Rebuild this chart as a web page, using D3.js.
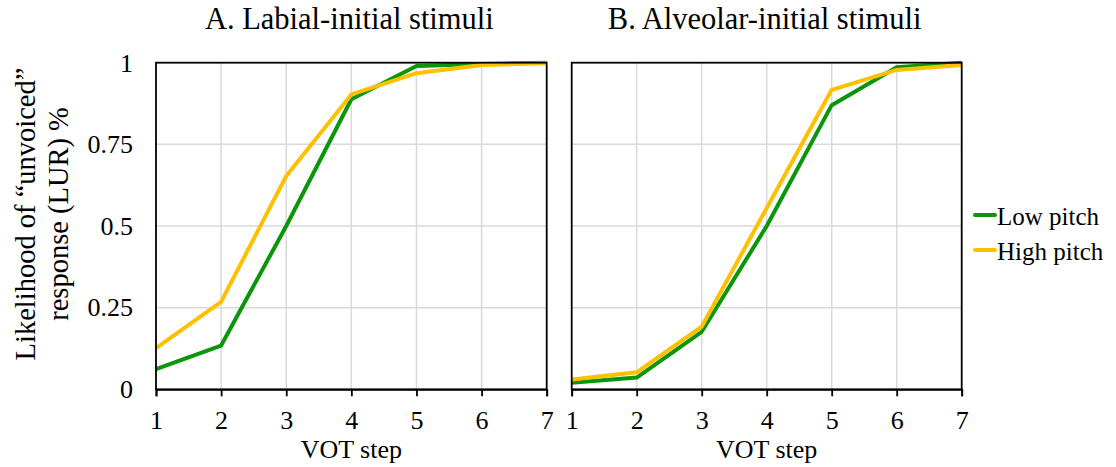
<!DOCTYPE html>
<html><head><meta charset="utf-8">
<script src="https://cdn.jsdelivr.net/npm/d3@7"></script>
<style>body{margin:0;background:#fff}svg{display:block}</style>
</head><body><svg id="c" width="1116" height="467"></svg>
<script>
const steps = [1,2,3,4,5,6,7];
const yTicks = [0,0.25,0.5,0.75,1];
const yTickLabels = ["0","0.25","0.5","0.75","1"];
const panelTitles = ["A. Labial-initial stimuli","B. Alveolar-initial stimuli"];
const seriesNames = ["Low pitch","High pitch"];
const labialLow  = [0.062,0.134,0.50,0.888,0.990,0.996,1.000];
const labialHigh = [0.126,0.268,0.653,0.903,0.968,0.993,0.998];
const alveolarLow  = [0.020,0.036,0.176,0.500,0.870,0.986,1.000];
const alveolarHigh = [0.030,0.052,0.192,0.555,0.917,0.978,0.993];
const colors = ["#0a960a","#ffc000"];
const FONT = "Liberation Serif, Times New Roman, serif";

const svg = d3.select("#c");
const plotTop = 62.7, plotBottom = 389.3;
const panels = [
  {x0:156, x1:546.7, title:panelTitles[0], data:[labialLow,labialHigh], yLabels:true},
  {x0:571.7, x1:961.7, title:panelTitles[1], data:[alveolarLow,alveolarHigh], yLabels:false}
];
const y = d3.scaleLinear().domain([0,1]).range([plotBottom,plotTop]);

panels.forEach((p,pi)=>{
  const x = d3.scaleLinear().domain([1,7]).range([p.x0,p.x1]);
  const g = svg.append("g");
  g.selectAll("line.hg").data(yTicks.slice(1,4)).join("line")
    .attr("x1",p.x0).attr("x2",p.x1).attr("y1",d=>y(d)).attr("y2",d=>y(d))
    .attr("stroke","#d9d9d9").attr("stroke-width",1.5);
  g.selectAll("line.vg").data(steps.slice(1,6)).join("line")
    .attr("x1",d=>x(d)).attr("x2",d=>x(d)).attr("y1",plotTop).attr("y2",plotBottom)
    .attr("stroke","#d9d9d9").attr("stroke-width",1.5);
  const line = d3.line().x((d,i)=>x(steps[i])).y(d=>y(d));
  p.data.forEach((s,k)=>{
    g.append("path").datum(s).attr("d",line).attr("fill","none")
      .attr("stroke",colors[k]).attr("stroke-width",4).attr("stroke-linejoin","round");
  });
  g.append("rect").attr("x",p.x0).attr("y",plotTop).attr("width",p.x1-p.x0).attr("height",plotBottom-plotTop)
    .attr("fill","none").attr("stroke","#000").attr("stroke-width",1.8);
  const xa = g.append("g").attr("transform",`translate(0,${plotBottom})`)
    .call(d3.axisBottom(x).tickValues(steps).tickSize(7).tickPadding(14).tickFormat(d3.format("d")));
  xa.attr("font-family",null).style("font-family",FONT).style("font-size","26px");
  xa.select(".domain").attr("stroke","#000").attr("stroke-width",1.8);
  xa.selectAll(".tick line").attr("stroke","#000").attr("stroke-width",1.8);
  xa.selectAll(".tick text").attr("fill","#000");
  g.append("text").attr("x",(p.x0+p.x1)/2).attr("y",458).attr("text-anchor","middle")
    .style("font-family",FONT).style("font-size","26px").text("VOT step");
  g.append("text").attr("x",(p.x0+p.x1)/2 - 2).attr("y",29.3).attr("text-anchor","middle")
    .style("font-family",FONT).style("font-size","30.5px").text(p.title);
  if(p.yLabels){
    const ya = g.append("g").attr("transform",`translate(${p.x0},0)`)
      .call(d3.axisLeft(y).tickValues(yTicks).tickSize(0).tickPadding(23).tickFormat((d,i)=>yTickLabels[i]));
    ya.attr("font-family",null).style("font-family",FONT).style("font-size","26px");
    ya.select(".domain").remove();
    ya.selectAll(".tick text").attr("fill","#000");
  }
});

const yt = svg.append("text").attr("transform","translate(35,214) rotate(-90)").attr("text-anchor","middle")
  .style("font-family",FONT).style("font-size","28.5px");
yt.append("tspan").attr("x",0).attr("y",0).text("Likelihood of \u201cunvoiced\u201d");
yt.append("tspan").attr("x",0).attr("y",33).text("response (LUR) %");

const lg = svg.append("g");
seriesNames.forEach((n,i)=>{
  const yy = 215 + i*35;
  lg.append("line").attr("x1",975).attr("x2",995).attr("y1",yy).attr("y2",yy)
    .attr("stroke",colors[i]).attr("stroke-width",4).attr("stroke-linecap","round");
  lg.append("text").attr("x",997).attr("y",yy+10).style("font-family",FONT).style("font-size","25px").text(n);
});
</script></body></html>
